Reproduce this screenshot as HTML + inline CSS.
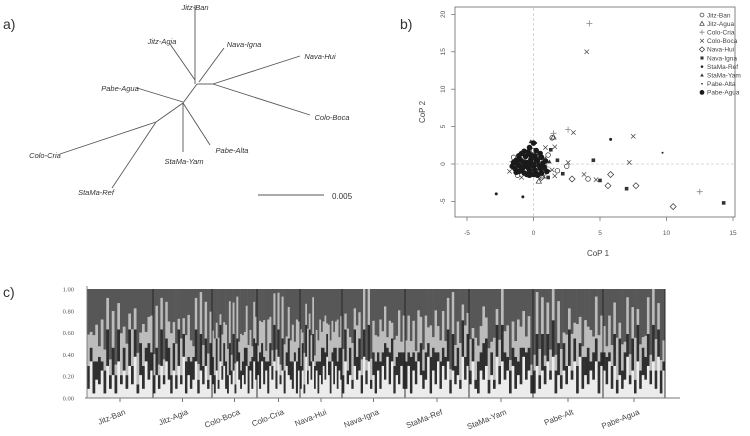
<!DOCTYPE html>
<html><head><meta charset="utf-8"><style>
body{margin:0;background:#fff;}
svg{display:block;font-family:"Liberation Sans",sans-serif;}
</style></head><body>
<svg id="fig" width="750" height="436" viewBox="0 0 750 436">
<text x="3" y="29" font-size="14" fill="#333">a)</text>
<text x="400" y="29" font-size="14" fill="#333">b)</text>
<text x="3" y="297" font-size="14" fill="#333">c)</text>
<g id="tree" stroke="#555" stroke-width="0.9" fill="none"></g>
<g id="scatter"></g>
<g id="struct"></g>
</svg>
<script>
const NS="http://www.w3.org/2000/svg";
function mk(p,tag,attrs){const e=document.createElementNS(NS,tag);for(const k in attrs)e.setAttribute(k,attrs[k]);p.appendChild(e);return e;}

// ---- Tree ----
const treeLines=[[197,84,183,103],[197,84,213,84],[183,103,156,122],
[195,84,195,5],[195,80,170,44],[199,82,224,48],[213,84,300,56],[213,84,310,115],
[183,102,137,88],[183,103,210,145],[183,103,183,152],[156,122,60,154],[156,122,112,188]];
const treeLabels=[["Jitz-Ban",195,10],["Jitz-Agia",162,44],["Nava-Igna",244,47],["Nava-Hui",320,59],["Colo-Boca",332,120],
["Pabe-Agua",120,91],["Pabe-Alta",232,153],["StaMa-Yam",184,164],["Colo-Cria",45,158],["StaMa-Ref",96,195]];
const tree=document.getElementById('tree');
treeLines.forEach(l=>{const e=mk(tree,'line',{x1:l[0],y1:l[1],x2:l[2],y2:l[3]});

});
treeLabels.forEach(t=>{const e=mk(tree,'text',{x:t[1],y:t[2],'text-anchor':'middle','font-size':'7.5','font-style':'italic',fill:'#333',stroke:'none'});e.textContent=t[0];

});
const sb=mk(tree,'line',{x1:258,y1:195,x2:324,y2:195});


const sbt=mk(tree,'text',{x:332,y:199,'font-size':'8',fill:'#333',stroke:'none'});sbt.textContent="0.005";



// ---- Scatter ----
const xTicks=[-5,0,5,10,15];
const yTicks=[-5,0,5,10,15,20];
const groups=["Jitz-Ban","Jitz-Agua","Colo-Cria","Colo-Boca","Nava-Hui","Nava-Igna","StaMa-Ref","StaMa-Yam","Pabe-Alta","Pabe-Agua"];
const ptsJitzBan=[[4.1,-2.0],[1.4,3.5],[1.8,-0.9],[2.5,-0.3],[0.2,-0.5],[-0.5,0.8],[0.8,-1.2],[-1.2,-1.5],[1.1,1.2],[0.5,0.3],[-1.5,0.9],[0.0,1.8]];
const ptsJitzAgua=[[0.4,-2.3],[1.5,3.6],[-0.2,-0.8],[0.9,0.6],[-1.0,0.4],[0.7,-1.6]];
const ptsColoCria=[[4.2,18.8],[2.6,4.6],[1.5,4.1],[12.5,-3.7],[-1.6,0.3],[0.3,1.2],[-0.7,-1.0],[1.0,-0.4]];
const ptsColoBoca=[[4.0,15.0],[3.0,4.2],[7.5,3.7],[7.2,0.2],[3.8,-1.4],[4.7,-2.1],[1.6,2.3],[2.6,0.2],[-1.8,-1.0],[1.6,-1.6],[-0.9,-1.8],[0.9,2.2],[1.4,-0.8]];
const ptsNavaHui=[[10.5,-5.7],[7.7,-2.9],[5.8,-1.4],[5.6,-2.9],[2.9,-2.0],[0.6,-1.8]];
const ptsNavaIgna=[[14.3,-5.2],[7.0,-3.3],[4.5,0.5],[5.0,-2.2],[1.8,0.5],[2.2,-1.3],[1.3,1.9],[1.1,-1.8],[0.7,-0.7]];
const ptsStaMaRef=[[-2.8,-4.0],[-0.8,-4.4],[5.8,3.3],[-0.4,1.2],[0.9,-0.6]];
const ptsStaMaYam=[[-0.2,3.0],[1.2,0.3],[-1.3,-0.4],[0.4,0.9]];
const ptsPabeAlta=[[9.7,1.5],[0.2,2.8],[-0.6,0.1],[1.2,-0.9]];
const ptsPabeAgua=[[-1.2,0.0],[-1.0,0.6],[-0.8,-0.5],[-0.6,1.0],[-0.5,0.2],[-0.3,-0.9],[-0.2,0.6],[0.0,-0.3],[0.1,1.1],[0.3,0.4],[-0.9,1.4],[-0.4,1.6],[0.2,-1.2],[-0.7,-1.2],[0.5,-0.6],[-1.4,-0.6],[0.0,0.0],[-0.6,-0.1],[0.6,0.9],[-1.1,-1.0],[0.0,2.8],[-0.3,-1.5],[0.7,0.1],[-1.3,0.5],
[-1.5,0.2],[-1.3,-1.1],[-1.0,-0.3],[-0.8,0.3],[-0.7,1.7],[-0.4,-0.5],[-0.2,1.2],[0.1,-0.8],[0.2,0.6],[0.4,-0.2],[0.5,1.4],[0.8,-0.4],[0.9,0.4],[-1.1,1.1],[-0.5,-1.4],[0.0,-1.4],[0.3,-1.5],[-0.9,-0.9],[-0.2,0.0],[-1.6,-0.3],[0.6,-1.2],[-0.3,2.2],[0.2,1.8],[1.0,-1.0]];
const allPts=[ptsJitzBan,ptsJitzAgua,ptsColoCria,ptsColoBoca,ptsNavaHui,ptsNavaIgna,ptsStaMaRef,ptsStaMaYam,ptsPabeAlta,ptsPabeAgua];
const sx=v=>467+(v+5)*13.3;
const sy=v=>164-v*7.48;
const sc=document.getElementById('scatter');
const frame=mk(sc,'rect',{x:455,y:7,width:280,height:210,fill:'none',stroke:'#666','stroke-width':0.8});


const vz=mk(sc,'line',{x1:sx(0),y1:8,x2:sx(0),y2:216,stroke:'#ccc','stroke-dasharray':'3,2','stroke-width':0.8});


const hz=mk(sc,'line',{x1:456,y1:sy(0),x2:734,y2:sy(0),stroke:'#ccc','stroke-dasharray':'3,2','stroke-width':0.8});


xTicks.forEach(t=>{const l=mk(sc,'line',{x1:sx(t),y1:217,x2:sx(t),y2:221,stroke:'#666','stroke-width':0.7});


const e=mk(sc,'text',{x:sx(t),y:235,'text-anchor':'middle','font-size':'6.5',fill:'#555'});e.textContent=t;

});
yTicks.forEach(t=>{const l=mk(sc,'line',{x1:451,y1:sy(t),x2:455,y2:sy(t),stroke:'#666','stroke-width':0.7});


const e=mk(sc,'text',{x:445,y:sy(t),'text-anchor':'middle','font-size':'6.5',fill:'#555',transform:`rotate(-90 445 ${sy(t)})`});e.textContent=t;

});
const xt=mk(sc,'text',{x:598,y:256,'text-anchor':'middle','font-size':'8',fill:'#444'});xt.textContent="CoP 1";


const yt=mk(sc,'text',{x:425,y:112,'text-anchor':'middle','font-size':'8',fill:'#444',transform:'rotate(-90 425 112)'});yt.textContent="CoP 2";


function marker(p,g,x,y,s){
  const c='#333';
  switch(g){
    case 0:return mk(p,'circle',{cx:x,cy:y,r:2.3*s,fill:'none',stroke:c,'stroke-width':0.7});
    case 1:return mk(p,'path',{d:`M${x} ${y-2.6*s}L${x+2.6*s} ${y+2*s}L${x-2.6*s} ${y+2*s}Z`,fill:'none',stroke:c,'stroke-width':0.7});
    case 2:return mk(p,'path',{d:`M${x-3*s} ${y}H${x+3*s}M${x} ${y-3*s}V${y+3*s}`,stroke:'#888','stroke-width':0.8});
    case 3:return mk(p,'path',{d:`M${x-2.2*s} ${y-2.2*s}L${x+2.2*s} ${y+2.2*s}M${x+2.2*s} ${y-2.2*s}L${x-2.2*s} ${y+2.2*s}`,stroke:'#444','stroke-width':0.7});
    case 4:return mk(p,'path',{d:`M${x} ${y-3*s}L${x+3*s} ${y}L${x} ${y+3*s}L${x-3*s} ${y}Z`,fill:'none',stroke:c,'stroke-width':0.7});
    case 5:return mk(p,'rect',{x:x-1.8*s,y:y-1.8*s,width:3.6*s,height:3.6*s,fill:c});
    case 6:return mk(p,'circle',{cx:x,cy:y,r:1.5*s,fill:'#222'});
    case 7:return mk(p,'path',{d:`M${x} ${y-2.2*s}L${x+2.2*s} ${y+1.6*s}L${x-2.2*s} ${y+1.6*s}Z`,fill:c});
    case 8:return mk(p,'circle',{cx:x,cy:y,r:1*s,fill:'#222'});
    default:return mk(p,'circle',{cx:x,cy:y,r:2.8*s,fill:'#1a1a1a'});
  }
}
allPts.forEach((arr,g)=>arr.forEach(pt=>{const m=marker(sc,g,sx(pt[0]),sy(pt[1]),1);

}));
groups.forEach((g,i)=>{const y=15+i*8.6;const m=marker(sc,i,702,y,0.85);


const e=mk(sc,'text',{x:707,y:y+2.3,'font-size':'6.5',fill:'#444'});e.textContent=g;

});

// ---- Structure plot ----
const popNames=["Jitz-Ban","Jitz-Agia","Colo-Boca","Colo-Cria","Nava-Hui","Nava-Igna","StaMa-Ref","StaMa-Yam","Pabe-Alt","Pabe-Agua"];
const q1s=["281436172518362739152846","152738416273915248163725","316284721536184253716284","528361748293617542816","261937482615374951837264","183527461938251627493815372","27163852491638274816352947","382164715293846172539461","17263849152637481925364817","638271524936182547382916"];
const q2s=["537462583647253846275384","463825746382574657384627","647283564738256438462758","384627538462753846275","562738465273846537284657","473628574638257463827564738","63845274638572645738462857","352748635274863547382654","57384628573648256374826573","462573846527384657384652"];
const q3s=["635728463725846374628357","482637584627358426384756","573826475836482753846275","364728536472853647285","726483572648357274635826","538274653827465384726354827","47362854736285473628457364","628357462835746253847362","38572647385264738527463857","527468352746835247386524"];
const yTicksS=[0,0.2,0.4,0.6,0.8,1.0];
const bounds=[87,153,212,257,300,342,405,469,533,603,665];
const Y0=398,Y1=289;
const syS=v=>Y0-v*(Y0-Y1);
const st=document.getElementById('struct');
const colors=['#ececec','#2f2f2f','#bcbcbc','#575757'];
popNames.forEach((name,g)=>{
  const a=q1s[g].split('').map(Number),b=q2s[g].split('').map(Number),c=q3s[g].split('').map(Number);
  const n=a.length,w=(bounds[g+1]-bounds[g])/n;
  for(let i=0;i<n;i++){
    let v1=a[i]*0.042,v2=Math.min(v1+b[i]*0.042,1),v3=Math.min(v2+c[i]*0.048,1);
    const segs=[[0,v1],[v1,v2],[v2,v3],[v3,1]];
    segs.forEach((s,k)=>{if(s[1]<=s[0])return;
      const r=mk(st,'rect',{x:bounds[g]+i*w,y:syS(s[1]),width:w+0.3,height:syS(s[0])-syS(s[1]),fill:colors[k]});
      
      });
  }
  const tx=(bounds[g]+bounds[g+1])/2;
  const tk=mk(st,'line',{x1:tx,y1:Y0,x2:tx,y2:Y0+4,stroke:'#555','stroke-width':0.8});
  
  
  const e=mk(st,'text',{x:tx+6,y:Y0+16,'text-anchor':'end','font-size':'8',fill:'#444',transform:`rotate(-22 ${tx+6} ${Y0+16})`});e.textContent=name;
  
  
});
bounds.forEach((x,i)=>{if(i===0)return;const l=mk(st,'line',{x1:x,y1:Y1,x2:x,y2:Y0,stroke:'#222','stroke-width':0.9});

});
const ax=mk(st,'line',{x1:85,y1:Y0,x2:680,y2:Y0,stroke:'#777','stroke-width':0.9});


const ay=mk(st,'line',{x1:87,y1:286,x2:87,y2:Y0,stroke:'#777','stroke-width':0.9});


yTicksS.forEach(t=>{const e=mk(st,'text',{x:74,y:syS(t)+2.5,'text-anchor':'end','font-size':'6.5','font-family':'Liberation Serif',fill:'#555'});e.textContent=t.toFixed(2);

});
</script>
</body></html>
